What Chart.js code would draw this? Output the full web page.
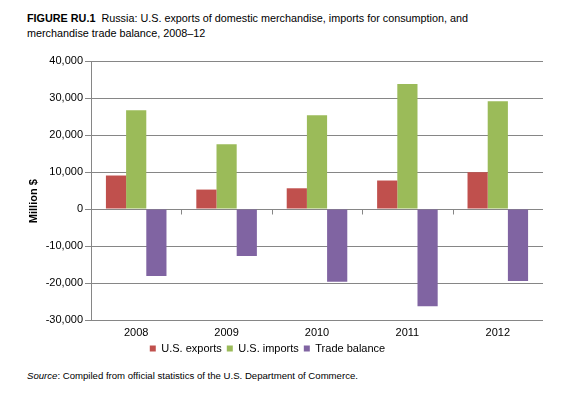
<!DOCTYPE html>
<html>
<head>
<meta charset="utf-8">
<script src="https://cdn.jsdelivr.net/npm/chart.js@4/dist/chart.umd.min.js"></script>
<style>
  html, body { margin: 0; padding: 0; background: #fff; }
  body { width: 586px; height: 396px; position: relative; overflow: hidden;
         font-family: "Liberation Sans", Arial, sans-serif; color: #000; }
  #title { position: absolute; left: 27px; top: 11px; font-size: 10.8px; line-height: 15px; }
  #source { position: absolute; left: 27px; top: 370px; font-size: 9.6px; line-height: 12px; }
  #wrap { position: absolute; left: -8px; top: 40px; width: 551px; height: 324px; }
</style>
</head>
<body>
<div id="title"><b>FIGURE RU.1</b>&nbsp; Russia: U.S. exports of domestic merchandise, imports for consumption, and<br>merchandise trade balance, 2008–12</div>
<div id="wrap"><canvas id="chart"></canvas></div>
<div id="source"><i>Source</i>: Compiled from official statistics of the U.S. Department of Commerce.</div>
<script>
const YEARS = ["2008", "2009", "2010", "2011", "2012"];
const EXPORTS = [9050, 5250, 5600, 7700, 9950];
const IMPORTS = [26700, 17500, 25350, 33800, 29150];
const BALANCE = [-18100, -12700, -19650, -26250, -19450];

const Y_MIN = -30000;
const Y_MAX = 40000;
const Y_STEP = 10000;

const GRID = "#868686";
const FONT = "'Liberation Sans', Arial, sans-serif";

Chart.defaults.font.family = FONT;
Chart.defaults.font.size = 11;
Chart.defaults.color = "#000";

// small tick marks under the zero line, between the years
const zeroTicks = {
    id: "zeroTicks",
    afterDatasetsDraw(chart) {
        const x = chart.scales.x;
        const y0 = Math.round(chart.scales.y.getPixelForValue(0)) + 0.5;
        const c = chart.ctx;
        c.save();
        c.strokeStyle = GRID;
        c.lineWidth = 1;
        c.beginPath();
        for (let i = 1; i <= YEARS.length; i++) {
            const px = Math.round(x.getPixelForValue(i - 0.5)) + 0.5;
            c.moveTo(px, y0);
            c.lineTo(px, y0 + 5);
        }
        c.stroke();
        c.restore();
    }
};

const ctx = document.getElementById("chart").getContext("2d");
const chart = new Chart(ctx, {
    type: "bar",
    data: {
        labels: YEARS,
        datasets: [
            { label: "U.S. exports", data: EXPORTS, backgroundColor: "#C0504D" },
            { label: "U.S. imports", data: IMPORTS, backgroundColor: "#9BBB59" },
            { label: "Trade balance", data: BALANCE, backgroundColor: "#8064A2" }
        ]
    },
    options: {
        responsive: true,
        maintainAspectRatio: false,
        animation: false,
        layout: { padding: { top: 21, bottom: 0, left: 0, right: 0 } },
        datasets: {
            bar: { categoryPercentage: 0.67, barPercentage: 1 }
        },
        plugins: {
            legend: {
                position: "bottom",
                labels: { boxWidth: 6, boxHeight: 6, padding: 5, font: { size: 11 } }
            },
            tooltip: { enabled: false }
        },
        scales: {
            x: {
                grid: { display: false, drawTicks: false },
                border: { display: false },
                ticks: { padding: 6, font: { size: 11 } },
                afterFit(scale) { scale.height = 18; }
            },
            y: {
                min: Y_MIN,
                max: Y_MAX,
                afterFit(scale) { scale.width = 99; },
                ticks: {
                    stepSize: Y_STEP,
                    padding: 2,
                    callback: v => v.toLocaleString("en-US")
                },
                grid: { color: GRID, tickLength: 6, drawTicks: true },
                border: { color: GRID },
                title: {
                    display: true,
                    // trailing spaces push the rotated title a little below centre, as in the original
                    text: "Million $\u00A0\u00A0\u00A0\u00A0\u00A0\u00A0\u00A0",
                    font: { size: 11, weight: "bold" },
                    padding: { top: 35, bottom: 5 }
                }
            }
        }
    },
    plugins: [zeroTicks]
});
</script>
</body>
</html>
